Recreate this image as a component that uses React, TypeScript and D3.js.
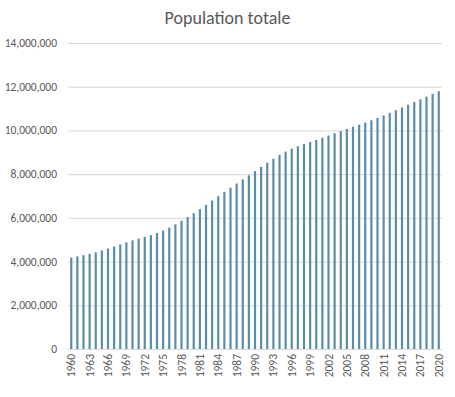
import React, { useEffect, useRef } from 'react'
import * as d3 from 'd3'

// Population totale, 1960 - 2020
const years: number[] = d3.range(1960, 2021)
const population: number[] = [
  4176266, 4237022, 4290997, 4348855, 4423240, 4508227, 4598167, 4691349, 4786436, 4879796,
  4968442, 5047558, 5124524, 5207200, 5303528, 5419264, 5552953, 5701961, 5864221, 6036218,
  6215100, 6401073, 6594209, 6791587, 6989592, 7186256, 7380057, 7571124, 7760294, 7949314,
  8139604, 8331536, 8522791, 8707973, 8879804, 9033068, 9164929, 9277381, 9376012, 9469584,
  9564585, 9663081, 9763753, 9865631, 9966835, 10066400, 10164570, 10262510, 10361850, 10464920,
  10573100, 10687160, 10806100, 10928540, 11052540, 11176800, 11300380, 11423320, 11546400, 11670200,
  11794010,
]
const yTicks: number[] = [0, 2000000, 4000000, 6000000, 8000000, 10000000, 12000000, 14000000]
const xTickYears: number[] = d3.range(1960, 2021, 3)

const width = 455
const height = 397
const margin = { top: 43, right: 13, bottom: 48, left: 68 }
const font = "Carlito, Calibri, 'Liberation Sans Narrow', 'Open Sans', sans-serif"

const App = () => {
  const svgRef = useRef<SVGSVGElement>(null)

  useEffect(() => {
    const svg = d3.select(svgRef.current)
    svg.selectAll('*').remove()

    const x = d3.scaleBand<string>()
      .domain(years.map(String))
      .range([margin.left, width - margin.right])
      .paddingInner(0.64)
      .paddingOuter(0.35)

    const y = d3.scaleLinear()
      .domain([0, 14000000])
      .range([height - margin.bottom, margin.top])

    // gridlines
    svg.append('g')
      .selectAll('line')
      .data(yTicks)
      .join('line')
      .attr('x1', margin.left)
      .attr('x2', width - margin.right)
      .attr('y1', d => y(d) + 0.5)
      .attr('y2', d => y(d) + 0.5)
      .attr('stroke', '#d9d9d9')
      .attr('stroke-width', 1)

    // y tick labels
    svg.append('g')
      .selectAll('text')
      .data(yTicks)
      .join('text')
      .attr('x', 57)
      .attr('y', d => y(d))
      .attr('dy', '0.35em')
      .attr('text-anchor', 'end')
      .attr('font-family', font)
      .attr('font-size', 11.5)
      .attr('fill', '#595959')
      .text(d => d3.format(',')(d))

    // bars
    svg.append('g')
      .selectAll('rect')
      .data(years)
      .join('rect')
      .attr('x', d => x(String(d))!)
      .attr('width', x.bandwidth())
      .attr('y', (d, i) => y(population[i]))
      .attr('height', (d, i) => y(0) - y(population[i]))
      .attr('fill', '#5b8ea6')

    // x tick labels
    svg.append('g')
      .selectAll('text')
      .data(xTickYears)
      .join('text')
      .attr('transform', d => `translate(${x(String(d))! + x.bandwidth() / 2},${height - margin.bottom + 5}) rotate(-90)`)
      .attr('dy', '0.35em')
      .attr('text-anchor', 'end')
      .attr('font-family', font)
      .attr('font-size', 11.5)
      .attr('fill', '#595959')
      .text(d => d)

    // title
    svg.append('text')
      .attr('x', width / 2)
      .attr('y', 24)
      .attr('text-anchor', 'middle')
      .attr('font-family', font)
      .attr('font-size', 18)
      .attr('fill', '#595959')
      .text('Population totale')
  }, [])

  return (
    <svg
      ref={svgRef}
      width={width}
      height={height}
      style={{ position: 'absolute', left: 0, top: 0, background: '#fff' }}
    />
  )
}

export default App
